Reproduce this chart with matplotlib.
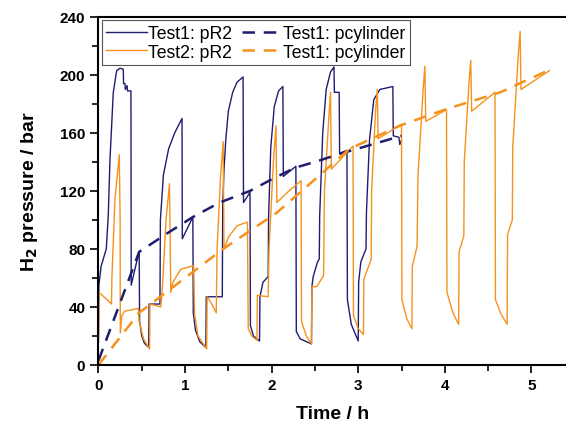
import matplotlib
matplotlib.use("Agg")
import matplotlib.pyplot as plt
from matplotlib.ticker import MultipleLocator

plt.rcParams['font.family'] = ['Liberation Sans', 'DejaVu Sans']

navy = '#1f1d70'
orange = '#f5921e'

# Test1: pR2 (time in h, pressure in bar)
t1_r2_t = [0.0, 0.005, 0.03, 0.09, 0.113, 0.133, 0.171, 0.21, 0.248, 0.286, 0.29, 0.306, 0.31, 0.33, 0.335, 0.375,
           0.378, 0.46, 0.47, 0.475, 0.5, 0.53, 0.58,
           0.585, 0.71, 0.715, 0.75, 0.81, 0.88, 0.965, 0.968, 1.09, 1.095, 1.12, 1.17, 1.24,
           1.245, 1.43, 1.435, 1.45, 1.47, 1.5, 1.55, 1.6, 1.67, 1.675, 1.75, 1.755, 1.79, 1.86,
           1.865, 1.9, 1.96, 1.965, 1.99, 2.03, 2.08, 2.13, 2.135, 2.28, 2.285, 2.33, 2.46,
           2.465, 2.48, 2.53, 2.55, 2.555, 2.59, 2.63, 2.68, 2.72, 2.725, 2.78, 2.785, 2.87, 2.875, 2.92, 3.0,
           3.005, 3.03, 3.09, 3.095, 3.13, 3.18, 3.25, 3.40, 3.405, 3.47, 3.48, 3.5]
t1_r2_p = [16, 55, 68, 80, 103, 142, 188, 203, 204.6, 204, 194, 194, 190, 192.6, 189, 189,
           55, 76, 78, 30, 20, 15, 12,
           42, 42, 100, 131, 149, 160, 170, 87, 102, 36, 24, 16, 12,
           47, 47, 110, 135, 155, 175, 188, 195, 198.6, 112, 119, 27, 20, 16.5,
           47, 57, 61, 103, 150, 178, 189, 192, 130, 137, 23, 18, 14.5,
           54, 61, 71, 73, 103, 160, 190, 202, 205.5, 188, 188, 146, 148, 45, 28, 16.5,
           57, 71, 80, 105, 155, 183, 190, 192, 158, 157, 152, 155]

# Test2: pR2
t2_r2_t = [0.0, 0.005, 0.1, 0.15, 0.155, 0.19, 0.24, 0.25, 0.252, 0.27, 0.3, 0.46, 0.47, 0.52, 0.59,
           0.595, 0.72, 0.74, 0.78, 0.82, 0.835, 0.86, 0.95, 1.1, 1.11, 1.15, 1.25,
           1.255, 1.3, 1.36, 1.37, 1.41, 1.44, 1.45, 1.5, 1.6, 1.72, 1.73, 1.77, 1.83,
           1.835, 1.96, 1.97, 2.02, 2.05, 2.06, 2.2, 2.34, 2.345, 2.4, 2.46,
           2.465, 2.52, 2.6, 2.61, 2.66, 2.68, 2.69, 2.94, 2.945, 3.0, 3.06,
           3.065, 3.15, 3.155, 3.2, 3.22, 3.23, 3.50, 3.505, 3.56, 3.62,
           3.625, 3.68, 3.69, 3.75, 3.77, 3.78, 4.02, 4.025, 4.1, 4.16,
           4.165, 4.22, 4.225, 4.28, 4.30, 4.31, 4.58, 4.585, 4.65, 4.72,
           4.725, 4.78, 4.785, 4.85, 4.87, 4.88, 5.21]
t2_r2_p = [16, 50, 45, 42, 60, 114, 145, 100, 22, 34, 37, 39, 30, 18, 11,
           42, 40, 55, 100, 125, 50, 57, 66, 68.5, 35, 20, 11,
           47, 43, 36, 80, 130, 154, 80, 88, 96, 98.5, 25, 20, 17,
           48, 47, 80, 140, 165, 112, 120, 127, 30, 20, 14.5,
           54, 54, 61.6, 120, 170, 188, 135, 151, 34, 25, 21,
           59, 73, 120, 175, 190, 156, 166, 45, 32, 25,
           68, 82, 130, 190, 206, 168, 176, 50, 35, 28,
           78, 89, 140, 195, 210, 175, 188, 45, 35, 28,
           90, 100, 150, 215, 230, 190, 203]

# Test1: pcylinder
t1_cyl_t = [0.0, 0.47, 0.8, 1.09, 1.4, 1.75, 2.0, 2.27, 2.5, 2.81, 3.1, 3.5]
t1_cyl_p = [3, 78, 91, 102, 112, 120, 128, 136, 140, 146, 151, 158]

# Test2 pcylinder (labelled Test1 in the original legend)
t2_cyl_t = [0.0, 0.47, 1.0, 1.44, 2.06, 2.5, 2.9, 3.48, 4.02, 4.64, 5.19]
t2_cyl_p = [0, 36, 60, 80, 105, 128, 149, 165, 176.5, 188, 203]

fig = plt.figure(figsize=(5.66, 4.27), dpi=100)
ax = fig.add_axes([0.174, 0.143, 0.826, 0.815])

l1, = ax.plot(t1_r2_t, t1_r2_p, color=navy, lw=1.0, label='Test1: pR2')
l2, = ax.plot(t2_r2_t, t2_r2_p, color=orange, lw=1.0, label='Test2: pR2')
l3, = ax.plot(t1_cyl_t, t1_cyl_p, color=navy, lw=1.8, ls=(0, (5, 3.5)), label='Test1: pcylinder')
l4, = ax.plot(t2_cyl_t, t2_cyl_p, color=orange, lw=1.8, ls=(0, (5, 3.5)), label='Test1: pcylinder')

ax.set_xlim(0, 5.4)
ax.set_ylim(0, 240)
ax.xaxis.set_major_locator(MultipleLocator(1))
ax.xaxis.set_minor_locator(MultipleLocator(0.5))
ax.yaxis.set_major_locator(MultipleLocator(40))
ax.yaxis.set_minor_locator(MultipleLocator(20))
ax.tick_params(which='both', direction='out', width=1.2)
ax.tick_params(which='major', length=6, labelsize=11)
ax.tick_params(which='minor', length=4)
for lab in ax.get_xticklabels() + ax.get_yticklabels():
    lab.set_fontweight('bold')
for s in ['left', 'bottom', 'top']:
    ax.spines[s].set_linewidth(1.5)
ax.spines['right'].set_visible(False)

ax.set_xlabel('Time / h', fontsize=14, fontweight='bold', labelpad=9)
ax.set_ylabel('H$_\\mathbf{2}$ pressure / bar', fontsize=14, fontweight='bold', labelpad=14)

leg = ax.legend(handles=[l1, l2, l3, l4], ncol=2, loc='upper left', fontsize=12.7,
                frameon=True, fancybox=False, edgecolor='#555555', framealpha=1,
                handlelength=2.3, handletextpad=0.05, columnspacing=0.55,
                borderaxespad=0.2, borderpad=0.25, labelspacing=0.1)
leg.get_frame().set_linewidth(0.8)

fig.savefig('out.png', dpi=100)
